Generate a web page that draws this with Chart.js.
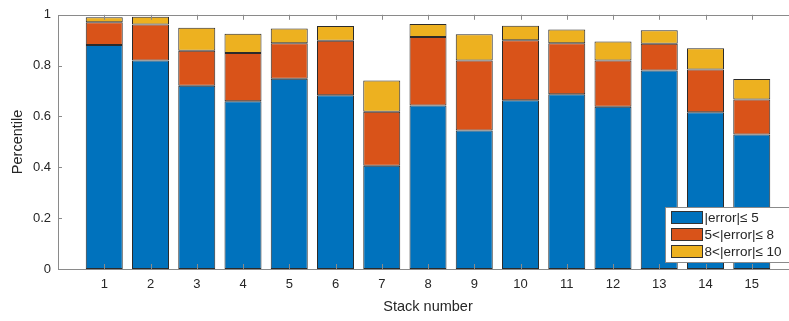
<!DOCTYPE html>
<html>
<head>
<meta charset="utf-8">
<script src="https://cdn.jsdelivr.net/npm/chart.js@4/dist/chart.umd.min.js"></script>
<style>
    html, body { margin: 0; padding: 0; background: #fff; overflow: hidden; }
    #wrap { width: 810px; height: 321px; }
</style>
</head>
<body>
<div id="wrap"><canvas id="chart"></canvas></div>
<script>
// Data
const stacks = [1, 2, 3, 4, 5, 6, 7, 8, 9, 10, 11, 12, 13, 14, 15];
const within5 = [0.881, 0.820, 0.721, 0.660, 0.748, 0.684, 0.406, 0.643, 0.545, 0.664, 0.687, 0.638, 0.781, 0.617, 0.529];
const within8 = [0.090, 0.142, 0.138, 0.190, 0.140, 0.214, 0.213, 0.270, 0.275, 0.236, 0.201, 0.182, 0.105, 0.168, 0.138];
const within10 = [0.019, 0.030, 0.090, 0.075, 0.058, 0.058, 0.123, 0.051, 0.103, 0.057, 0.054, 0.075, 0.053, 0.083, 0.080];
const seriesLabels = ['|error|\u2264 5', '5<|error|\u2264 8', '8<|error|\u2264 10'];
const yTicks = [0, 0.2, 0.4, 0.6, 0.8, 1];

const FONT = '"Liberation Sans", Arial, Helvetica, sans-serif';
const colors = ['#0072BD', '#D95319', '#EDB120'];

function toPoints(values) {
    return values.map((v, i) => ({ x: stacks[i], y: v }));
}

// Frame, inward tick marks and the legend box, MATLAB style
const matlabAxes = {
    id: 'matlabAxes',
    afterDatasetsDraw(chart) {
        const { ctx, chartArea: a, scales } = chart;
        ctx.save();
        ctx.strokeStyle = '#8a8a8a';
        ctx.lineWidth = 1;
        ctx.beginPath();
        stacks.forEach((s) => {
            const x = Math.round(scales.x.getPixelForValue(s)) + 0.5;
            ctx.moveTo(x, a.top);
            ctx.lineTo(x, a.top + 5);
            ctx.moveTo(x, a.bottom);
            ctx.lineTo(x, a.bottom - 5);
        });
        yTicks.forEach((t) => {
            const y = Math.round(scales.y.getPixelForValue(t)) + 0.5;
            ctx.moveTo(a.left, y);
            ctx.lineTo(a.left + 4, y);
        });
        ctx.stroke();
        ctx.strokeRect(Math.round(a.left) + 0.5, Math.round(a.top) + 0.5,
            Math.round(a.right - a.left), Math.round(a.bottom - a.top));

        // legend
        const lx = Math.round(a.left + 607) + 0.5;
        const ly = Math.round(a.top + 192) + 0.5;
        const lw = 126, lh = 55;
        ctx.fillStyle = '#fff';
        ctx.fillRect(lx, ly, lw, lh);
        ctx.strokeStyle = '#8a8a8a';
        ctx.strokeRect(lx, ly, lw, lh);
        ctx.font = '13.5px ' + FONT;
        ctx.textBaseline = 'middle';
        chart.data.datasets.forEach((ds, i) => {
            const cy = ly + 10 + i * 17;
            ctx.fillStyle = ds.backgroundColor;
            ctx.fillRect(lx + 6, cy - 6, 31, 12);
            ctx.strokeStyle = '#333';
            ctx.strokeRect(lx + 6, cy - 6, 31, 12);
            ctx.fillStyle = '#262626';
            ctx.fillText(ds.label, lx + 39, cy + 1);
        });
        ctx.restore();
    }
};

const ctx = document.getElementById('chart').getContext('2d');
new Chart(ctx, {
    type: 'bar',
    data: {
        datasets: [within5, within8, within10].map((vals, i) => ({
            label: seriesLabels[i],
            data: toPoints(vals),
            backgroundColor: colors[i],
            borderColor: '#2b2b2b',
            borderWidth: 1,
            borderSkipped: false,
            barPercentage: 0.8,
            categoryPercentage: 1.0,
        })),
    },
    options: {
        responsive: true,
        maintainAspectRatio: false,
        animation: false,
        layout: { padding: { top: 12, right: 12, left: 0, bottom: 0 } },
        plugins: {
            legend: { display: false },
            tooltip: { enabled: false },
        },
        scales: {
            x: {
                type: 'linear',
                stacked: true,
                offset: false,
                min: 0,
                max: 16,
                grid: { display: false, drawTicks: false },
                border: { display: false },
                afterBuildTicks: (scale) => {
                    scale.ticks = stacks.map((s) => ({ value: s }));
                },
                afterFit: (scale) => { scale.height = 52; },
                ticks: {
                    autoSkip: false,
                    maxRotation: 0,
                    padding: 8,
                    color: '#262626',
                    font: { family: FONT, size: 13 },
                    callback: (v) => String(v),
                },
                title: {
                    display: true,
                    text: 'Stack number',
                    color: '#262626',
                    font: { family: FONT, size: 14.5 },
                    padding: { top: 0, bottom: 5 },
                },
            },
            y: {
                stacked: true,
                min: 0,
                max: 1,
                grid: { display: false, drawTicks: false },
                border: { display: false },
                afterBuildTicks: (scale) => {
                    scale.ticks = yTicks.map((t) => ({ value: t }));
                },
                afterFit: (scale) => { scale.width = 58; },
                ticks: {
                    padding: 7,
                    color: '#262626',
                    font: { family: FONT, size: 13 },
                    callback: (v) => String(v),
                },
                title: {
                    display: true,
                    text: 'Percentile',
                    color: '#262626',
                    font: { family: FONT, size: 14.5 },
                    padding: { top: 9, bottom: 0 },
                },
            },
        },
    },
    plugins: [matlabAxes],
});
</script>
</body>
</html>
